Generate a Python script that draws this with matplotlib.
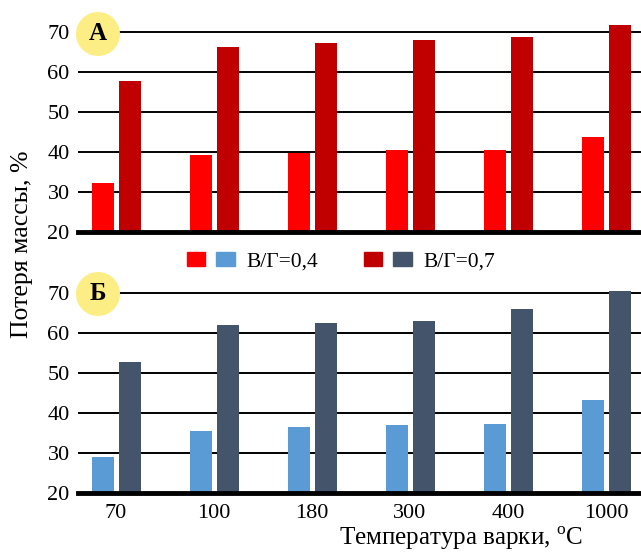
import matplotlib
matplotlib.use("Agg")
import matplotlib.pyplot as plt
from matplotlib.patches import Patch
from matplotlib.legend_handler import HandlerTuple
import numpy as np

# data
temps = ["70", "100", "180", "300", "400", "1000"]
top_04 = [32.2, 39.3, 39.8, 40.6, 40.6, 43.7]
top_07 = [57.8, 66.3, 67.3, 68.1, 68.8, 71.8]
bot_04 = [29.1, 35.6, 36.6, 37.0, 37.3, 43.3]
bot_07 = [52.8, 62.0, 62.5, 63.0, 66.0, 70.6]

plt.rcParams['font.family'] = ['Liberation Serif', 'DejaVu Serif']
plt.rcParams['mathtext.fontset'] = 'custom'
plt.rcParams['mathtext.rm'] = 'Liberation Serif'

fig = plt.figure(figsize=(6.41, 5.52), dpi=100)
W, H = 641.0, 552.0

def make_ax(y20, s04, s07, c04, c07, letter, circle_y, show_x):
  ax = fig.add_axes([78 / W, (H - y20) / H, 1 - 78 / W, 220 / H])
  x = np.arange(len(temps))
  ax.bar(x - 0.135, s04, 0.22, color=c04, zorder=3)
  ax.bar(x + 0.145, s07, 0.22, color=c07, zorder=3)
  ax.set_xlim(-0.388, 5.357)
  ax.set_ylim(20, 75)
  ax.set_yticks([20, 30, 40, 50, 60, 70])
  ax.grid(axis='y', color='black', linewidth=1.4, zorder=1)
  for s in ['left', 'right', 'top']:
    ax.spines[s].set_visible(False)
  ax.spines['bottom'].set_linewidth(3.5)
  ax.spines['bottom'].set_zorder(4)
  ax.tick_params(axis='both', length=0, labelsize=16)
  ax.tick_params(axis='y', pad=6)
  ax.tick_params(axis='x', pad=8)
  ax.set_xticks(x)
  if show_x:
    ax.set_xticklabels(temps)
  else:
    ax.set_xticklabels([])
  fig.text(98 / W, 1 - circle_y / H, letter, fontsize=18, fontweight='bold',
           ha='center', va='center', zorder=10,
           bbox=dict(boxstyle='circle,pad=0.42', fc='#fcee84', ec='none'))
  return ax

make_ax(232, top_04, top_07, '#ff0000', '#c00000', 'А', 34, False)
make_ax(493, bot_04, bot_07, '#5b9bd5', '#44546a', 'Б', 294, True)

fig.text(22 / W, 1 - 244 / H, 'Потеря массы, %', rotation=90, fontsize=18.5,
         ha='center', va='center')
fig.text(461 / W, 1 - 538 / H, r'Температура варки, $^{\mathrm{o}}$C',
         fontsize=18, ha='center', va='center')

h1 = (Patch(color='#ff0000'), Patch(color='#5b9bd5'))
h2 = (Patch(color='#c00000'), Patch(color='#44546a'))
fig.legend(handles=[h1, h2], labels=['В/Г=0,4', 'В/Г=0,7'],
           handler_map={tuple: HandlerTuple(ndivide=None, pad=0.5)},
           ncol=2, frameon=False, loc='center', bbox_to_anchor=(341 / W, 1 - 262 / H),
           fontsize=15.5, handlelength=2.23, handleheight=0.6,
           handletextpad=0.56, columnspacing=2.1)

fig.savefig('out.png', dpi=100)
